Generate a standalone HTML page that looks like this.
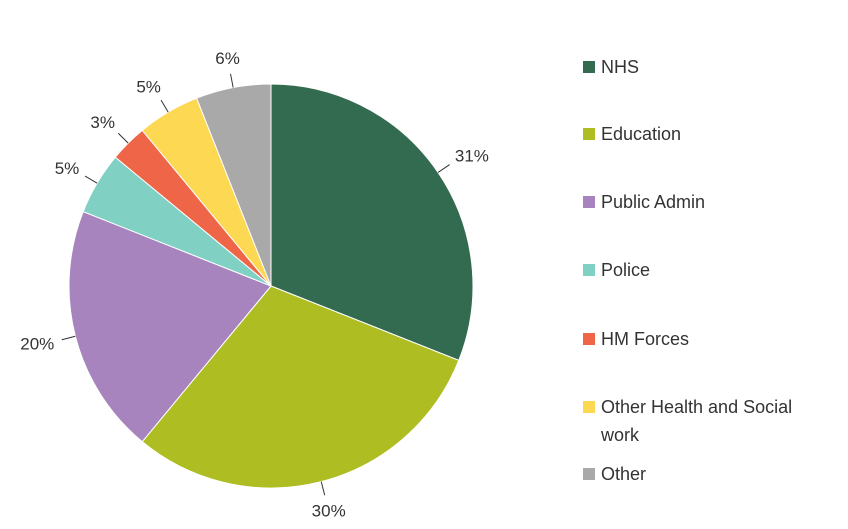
<!DOCTYPE html>
<html><head><meta charset="utf-8"><style>
body{margin:0;background:#fff;font-family:"Liberation Sans",sans-serif;}
svg{display:block}
</style></head><body>
<svg id="chart" width="848" height="529" viewBox="0 0 848 529" xmlns="http://www.w3.org/2000/svg">
<g id="slices"></g>
<g id="labels"></g>
<g id="legend"></g>
</svg>
<script>
const categories=["NHS","Education","Public Admin","Police","HM Forces","Other Health and Social work","Other"];
const values=[31,30,20,5,3,5,6];
const colors=["#336b51","#aebd22","#a784bd","#80d0c4","#ef6548","#fdd853","#a9a9a9"];
const ns="http://www.w3.org/2000/svg";
const cx=271,cy=286,r=202;
const total=values.reduce((a,b)=>a+b,0);
function pt(a,rad){return [cx+rad*Math.sin(a),cy-rad*Math.cos(a)];}
const sg=document.getElementById('slices'),lg=document.getElementById('labels'),leg=document.getElementById('legend');
let acc=0;
values.forEach((v,i)=>{
  const a0=acc/total*2*Math.PI;acc+=v;const a1=acc/total*2*Math.PI;
  const p0=pt(a0,r),p1=pt(a1,r);
  const p=document.createElementNS(ns,'path');
  p.setAttribute('d',`M${cx},${cy}L${p0[0]},${p0[1]}A${r},${r} 0 ${a1-a0>Math.PI?1:0} 1 ${p1[0]},${p1[1]}Z`);
  p.setAttribute('fill',colors[i]);p.setAttribute('stroke','#fff');p.setAttribute('stroke-width','1');
  
  
  sg.appendChild(p);
  const am=(a0+a1)/2;
  const l0=pt(am,r),l1=pt(am,r+14);
  const ln=document.createElementNS(ns,'line');
  ln.setAttribute('x1',l0[0]);ln.setAttribute('y1',l0[1]);ln.setAttribute('x2',l1[0]);ln.setAttribute('y2',l1[1]);
  ln.setAttribute('stroke','#333');ln.setAttribute('stroke-width','1');
  
  
  lg.appendChild(ln);
  const tp=pt(am,r+30);
  const t=document.createElementNS(ns,'text');
  const s=Math.sin(am);
  t.setAttribute('x',tp[0]+(s>0.3?-8:s<-0.3?8:0));t.setAttribute('y',tp[1]+6);
  t.setAttribute('text-anchor',s>0.3?'start':s<-0.3?'end':'middle');
  t.setAttribute('font-size','17');t.setAttribute('fill','#333');
  t.textContent=v+'%';
  
  
  lg.appendChild(t);
});
const ly=[67,134,202,270,339,407,474];
categories.forEach((c,i)=>{
  const g=document.createElementNS(ns,'g');
  
  
  const rc=document.createElementNS(ns,'rect');
  rc.setAttribute('x',583);rc.setAttribute('y',ly[i]-6);rc.setAttribute('width',12);rc.setAttribute('height',12);rc.setAttribute('fill',colors[i]);
  
  
  g.appendChild(rc);
  const t=document.createElementNS(ns,'text');
  t.setAttribute('x',601);t.setAttribute('y',ly[i]+6);t.setAttribute('font-size','18');t.setAttribute('fill','#333');
  
  
  if(c==="Other Health and Social work"){
    t.innerHTML='<tspan x="601">Other Health and Social</tspan><tspan x="601" dy="28">work</tspan>';
  } else t.textContent=c;
  g.appendChild(t);
  leg.appendChild(g);
});
</script>
</body></html>
